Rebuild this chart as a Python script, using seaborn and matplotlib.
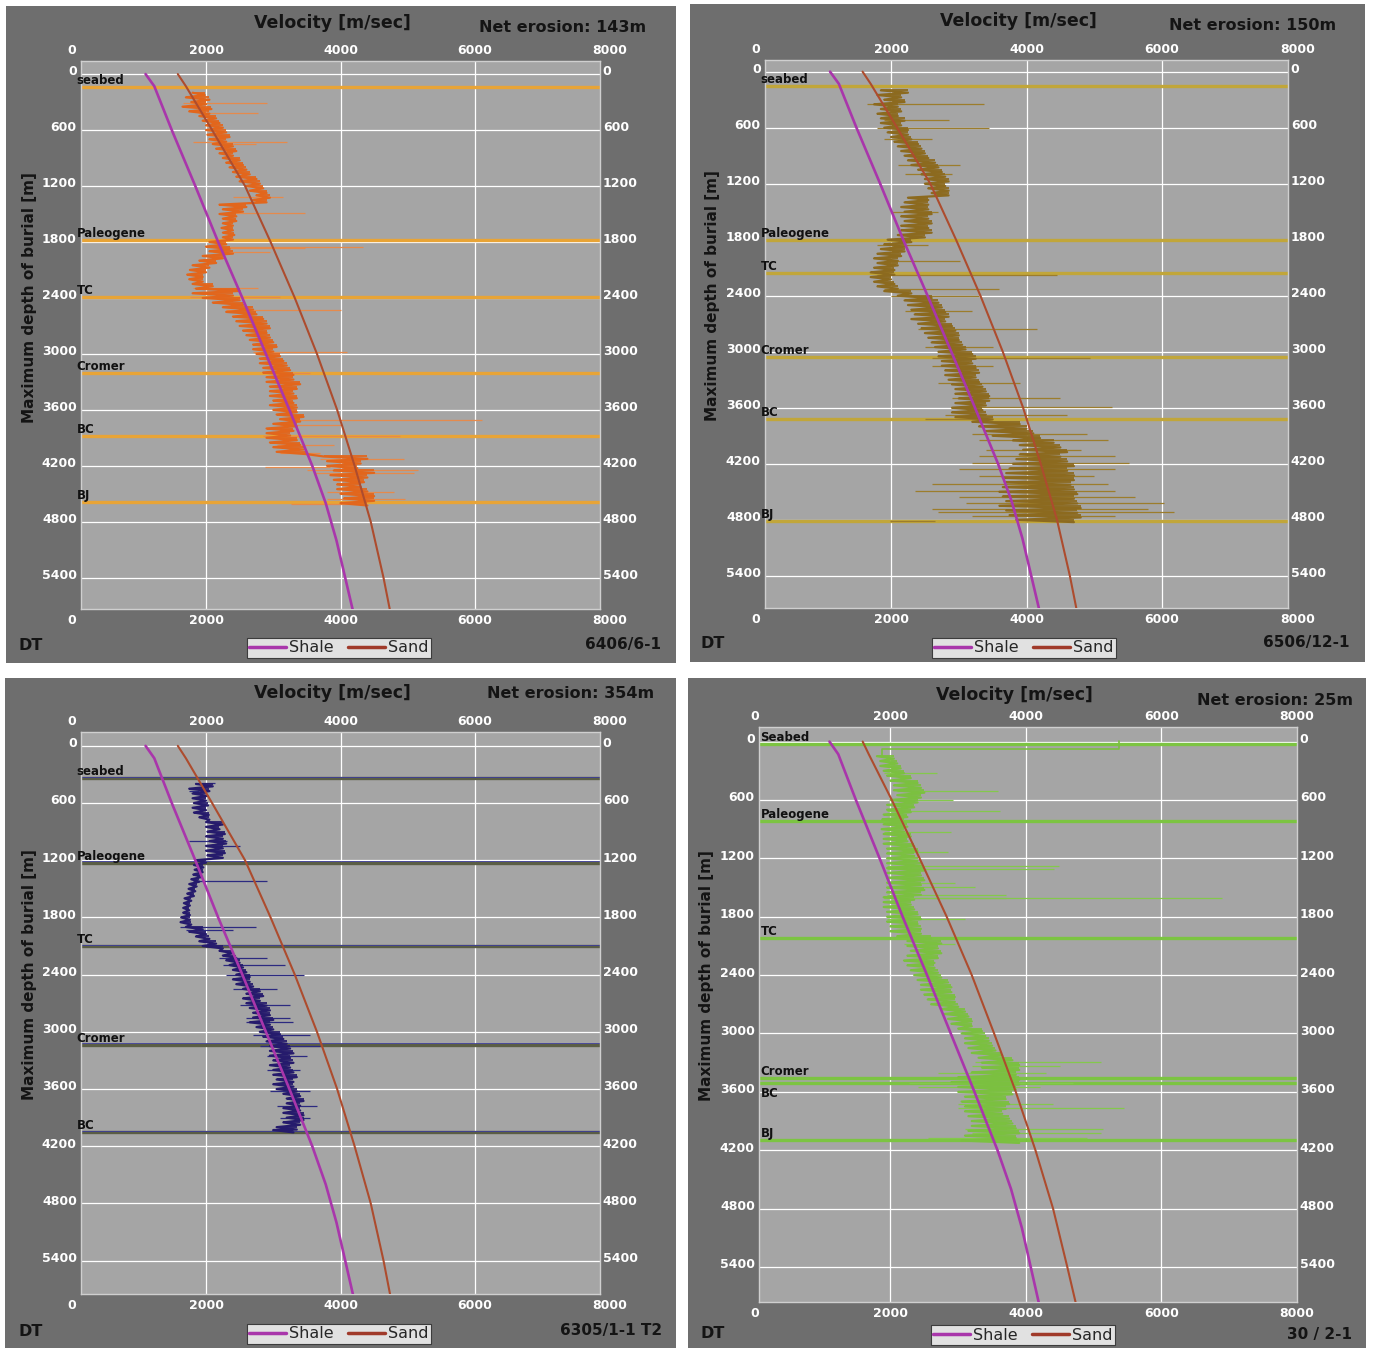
import matplotlib
matplotlib.use("Agg")
import matplotlib.pyplot as plt
import seaborn as sns
from matplotlib.patches import Rectangle
from matplotlib.lines import Line2D

# ---------------------------------------------------------------- data
# Reference compaction trends (depth in m, velocity in m/s)
shale_depth = [0, 130, 600, 1200, 1800, 2400, 3000, 3600, 4200, 4600, 5000, 5400, 5800]
shale_vel = [1100, 1230, 1490, 1840, 2180, 2540, 2890, 3240, 3580, 3780, 3940, 4070, 4200]

sand_depth = [0, 130, 600, 1200, 1800, 2400, 3000, 3600, 4200, 4800, 5400, 5800]
sand_vel = [1580, 1700, 2090, 2580, 2960, 3320, 3650, 3950, 4210, 4450, 4640, 4750]
sand_vel_30_2 = [1590, 1680, 2020, 2430, 2830, 3200, 3530, 3850, 4140, 4400, 4610, 4745]

vel_ticks = [0, 2000, 4000, 6000, 8000]
depth_ticks = [0, 600, 1200, 1800, 2400, 3000, 3600, 4200, 4800, 5400]

# Well 6406/6-1 : sonic velocity envelope per 50 m and isolated spikes
w1_depth = [200, 250, 300, 350, 400, 450, 500, 550, 600, 650, 700, 750, 800, 850, 900, 950,
            1000, 1050, 1100, 1150, 1200, 1250, 1300, 1350, 1400, 1450, 1500, 1550, 1600, 1650,
            1700, 1750, 1800, 1850, 1900, 1950, 2000, 2050, 2100, 2150, 2200, 2250, 2300, 2350,
            2400, 2450, 2500, 2550, 2600, 2650, 2700, 2750, 2800, 2850, 2900, 2950, 3000, 3050,
            3100, 3150, 3200, 3250, 3300, 3350, 3400, 3450, 3500, 3550, 3600, 3650, 3700, 3750,
            3800, 3850, 3900, 3950, 4000, 4050, 4100, 4150, 4200, 4250, 4300, 4350, 4400, 4450,
            4500, 4550, 4600]
w1_lo = [1800, 1700, 1780, 1650, 1750, 1900, 1950, 2000, 2000, 2020, 2050, 2100, 2150, 2200, 2250, 2300,
         2350, 2400, 2450, 2500, 2600, 2650, 2750, 2700, 2200, 2250, 2200, 2250, 2250, 2230,
         2250, 2250, 2050, 2000, 2050, 1950, 1900, 1800, 1760, 1720, 1750, 1800, 1850, 1800,
         1950, 2100, 2250, 2300, 2400, 2450, 2500, 2550, 2600, 2650, 2700, 2700, 2750, 2800,
         2800, 2850, 2850, 2900, 2900, 2950, 2950, 2950, 3000, 2950, 3000, 3050, 3100, 3000,
         2900, 2900, 2900, 2950, 3000, 3050, 3750, 3800, 3800, 3900, 3850, 3900, 3950, 3950,
         4000, 4050, 4000]
w1_hi = [1980, 2050, 2000, 2080, 2050, 2150, 2200, 2250, 2300, 2350, 2300, 2400, 2450, 2400, 2500, 2550,
         2600, 2650, 2750, 2800, 2850, 2900, 2950, 2900, 2600, 2550, 2450, 2450, 2400, 2400,
         2420, 2400, 2300, 2350, 2400, 2250, 2150, 2050, 2000, 1950, 1950, 2100, 2500, 2400,
         2500, 2550, 2700, 2750, 2850, 2900, 2950, 2900, 2950, 3000, 3050, 3000, 3100, 3150,
         3200, 3250, 3300, 3300, 3400, 3350, 3300, 3350, 3300, 3350, 3350, 3450, 3400, 3350,
         3300, 3250, 3350, 3400, 3450, 3500, 4400, 4300, 4250, 4500, 4400, 4350, 4300, 4400,
         4500, 4500, 4400]
w1_spike_depth = [314, 421, 725, 745, 1314, 1493, 1850, 1862, 1910, 2290, 2395, 2530, 2980,
                  3200, 3710, 3760, 3880, 3980, 4060, 4130, 4210, 4245, 4280, 4480, 4560, 4610]
w1_spike_lo = [1650, 1900, 1800, 2100, 2400, 2300, 2100, 2200, 2100, 1800, 1760, 2300, 2700,
               2900, 3200, 3100, 2850, 3050, 3100, 3700, 2880, 3500, 3600, 3800, 3800, 3270]
w1_spike_hi = [2900, 2770, 3200, 2750, 3150, 3470, 4340, 3470, 2950, 2780, 3100, 4000, 4100,
               3550, 6100, 4000, 4890, 3900, 3700, 4950, 3850, 5160, 5100, 4800, 4960, 4300]

# Well 6506/12-1
w2_depth = [200, 250, 300, 350, 400, 450, 500, 550, 600, 650, 700, 750, 800, 850, 900, 950,
            1000, 1050, 1100, 1150, 1200, 1250, 1300, 1350, 1400, 1450, 1500, 1550, 1600, 1650,
            1700, 1750, 1800, 1850, 1900, 1950, 2000, 2050, 2100, 2150, 2200, 2250, 2300, 2350,
            2400, 2450, 2500, 2550, 2600, 2650, 2700, 2750, 2800, 2850, 2900, 2950, 3000, 3050,
            3100, 3150, 3200, 3250, 3300, 3350, 3400, 3450, 3500, 3550, 3600, 3650, 3700, 3750,
            3800, 3850, 3900, 3950, 4000, 4050, 4100, 4150, 4200, 4250, 4300, 4350, 4400, 4450,
            4500, 4550, 4600, 4650, 4700, 4750, 4800]
w2_lo = [1850, 1800, 1900, 1750, 1850, 1800, 1850, 1850, 1900, 1950, 2000, 2050, 2100, 2150, 2200, 2250,
         2300, 2400, 2450, 2500, 2500, 2550, 2600, 2250, 2200, 2150, 2200, 2150, 2200, 2150,
         2150, 2100, 1950, 1900, 1850, 1800, 1750, 1800, 1750, 1700, 1700, 1750, 1800, 1900,
         2100, 2200, 2250, 2300, 2350, 2300, 2400, 2450, 2500, 2550, 2600, 2650, 2700, 2700,
         2750, 2750, 2800, 2800, 2850, 2900, 2950, 2950, 3000, 2950, 2900, 2900, 2950, 3200,
         3300, 3400, 3500, 3800, 3900, 3950, 3900, 3850, 3800, 3750, 3700, 3650, 3700, 3650,
         3600, 3650, 3700, 3600, 3700, 3750, 3850]
w2_hi = [2250, 2150, 2200, 2100, 2150, 2100, 2200, 2150, 2250, 2250, 2300, 2400, 2450, 2500, 2550, 2650,
         2700, 2750, 2800, 2850, 2800, 2850, 2850, 2550, 2550, 2550, 2600, 2550, 2600, 2550,
         2600, 2500, 2300, 2200, 2200, 2150, 2100, 2100, 2050, 2050, 2000, 2050, 2100, 2300,
         2600, 2700, 2750, 2800, 2850, 2800, 2900, 2950, 3000, 3000, 3050, 3100, 3200, 3250,
         3200, 3250, 3300, 3250, 3300, 3350, 3400, 3450, 3450, 3400, 3350, 3400, 3500, 3900,
         4000, 4100, 4200, 4400, 4500, 4600, 4500, 4600, 4700, 4600, 4700, 4700, 4650, 4700,
         4750, 4700, 4750, 4800, 4750, 4800, 4700]
w2_spike_depth = [350, 520, 607, 720, 1000, 1100, 1500, 1860, 2030, 2180, 2330, 2400, 2560, 2760,
                  2950, 3070, 3150, 3340, 3500, 3590, 3680, 3720, 3880, 3950, 4050, 4120, 4190,
                  4260, 4330, 4420, 4490, 4560, 4620, 4680, 4720, 4760, 4815]
w2_spike_lo = [1650, 1900, 1800, 1900, 2100, 2200, 2000, 1800, 1900, 1800, 1900, 2000, 2200, 2400,
               2500, 2600, 2600, 2700, 2900, 2900, 2800, 2500, 3200, 3300, 3400, 3300, 3200,
               3000, 3300, 2600, 2350, 3000, 3100, 2600, 2700, 3200, 1980]
w2_spike_hi = [3370, 2850, 3440, 2600, 3020, 2900, 2700, 2550, 3020, 4450, 3600, 3300, 3200, 4150,
               3500, 4940, 3500, 3900, 4500, 5260, 4600, 3400, 4900, 5200, 4800, 5300, 5510,
               5300, 5000, 5200, 5300, 5600, 6025, 5800, 6174, 5300, 2650]

# Well 6305/1-1 T2
w3_depth = [400, 450, 500, 550, 600, 650, 700, 750, 800, 850, 900, 950, 1000, 1050, 1100, 1150,
            1200, 1250, 1300, 1350, 1400, 1450, 1500, 1550, 1600, 1650, 1700, 1750, 1800, 1850,
            1900, 1950, 2000, 2050, 2100, 2150, 2200, 2250, 2300, 2350, 2400, 2450, 2500, 2550,
            2600, 2650, 2700, 2750, 2800, 2850, 2900, 2950, 3000, 3050, 3100, 3150, 3200, 3250,
            3300, 3350, 3400, 3450, 3500, 3550, 3600, 3650, 3700, 3750, 3800, 3850, 3900, 3950,
            4000, 4030]
w3_lo = [1850, 1750, 1800, 1800, 1820, 1800, 1820, 1900, 2000, 2000, 2020, 2000, 2050, 2000, 2000, 2020,
         1850, 1820, 1830, 1810, 1780, 1750, 1740, 1720, 1680, 1670, 1660, 1660, 1630, 1620,
         1700, 1750, 1850, 1900, 1950, 2200, 2250, 2300, 2350, 2400, 2450, 2400, 2450, 2550,
         2600, 2550, 2600, 2650, 2700, 2700, 2650, 2750, 2800, 2850, 2900, 2950, 2950, 2950,
         3000, 2950, 3000, 3000, 3050, 3000, 3050, 3150, 3200, 3200, 3150, 3150, 3200, 3150,
         3050, 3000]
w3_hi = [2100, 2050, 2020, 2000, 2030, 2000, 2040, 2050, 2250, 2200, 2280, 2250, 2300, 2250, 2280, 2250,
         2000, 1960, 1950, 1940, 1900, 1860, 1840, 1820, 1780, 1760, 1750, 1760, 1760, 1780,
         1950, 2000, 2050, 2150, 2250, 2400, 2450, 2500, 2550, 2600, 2650, 2650, 2700, 2800,
         2850, 2800, 2900, 2950, 2950, 3000, 2950, 3000, 3100, 3150, 3200, 3250, 3300, 3250,
         3300, 3250, 3300, 3350, 3300, 3300, 3350, 3400, 3450, 3400, 3400, 3450, 3450, 3400,
         3350, 3300]
w3_spike_depth = [395, 470, 1000, 1050, 1420, 1900, 1930, 2230, 2300, 2400, 2550, 2720, 2850,
                  2900, 3030, 3150, 3250, 3400, 3620, 3780, 3900, 4030]
w3_spike_lo = [1840, 1740, 1740, 2000, 1800, 1620, 1700, 2200, 2250, 2300, 2400, 2500, 2600,
               2600, 2700, 2800, 2900, 2900, 2950, 3050, 3100, 2980]
w3_spike_hi = [2130, 1900, 2310, 2500, 2900, 2750, 2400, 2900, 3180, 3450, 3050, 3250, 3250,
               3300, 3550, 3700, 3500, 3400, 3550, 3650, 3550, 3300]

# Well 30/2-1
w4_head_depth = [-5, 80, 80, 150]
w4_head_vel = [5380, 5380, 1870, 1870]
w4_depth = [150, 200, 250, 300, 350, 400, 450, 500, 550, 600, 650, 700, 750, 800, 850, 900,
            950, 1000, 1050, 1100, 1150, 1200, 1250, 1300, 1350, 1400, 1450, 1500, 1550, 1600,
            1650, 1700, 1750, 1800, 1850, 1900, 1950, 2000, 2050, 2100, 2150, 2200, 2250, 2300,
            2350, 2400, 2450, 2500, 2550, 2600, 2650, 2700, 2750, 2800, 2850, 2900, 2950, 3000,
            3050, 3100, 3150, 3200, 3250, 3300, 3350, 3400, 3450, 3500, 3550, 3600, 3650, 3700,
            3750, 3800, 3850, 3900, 3950, 4000, 4050, 4100]
w4_lo = [1800, 1850, 1850, 1900, 1950, 2000, 2050, 2050, 2100, 2000, 1950, 1950, 1900, 1880, 1900, 1870,
         1900, 1900, 1900, 1950, 1950, 1950, 1950, 1950, 1950, 1950, 1950, 1950, 1950, 1900,
         1900, 1900, 1950, 1950, 1950, 2000, 2000, 2100, 2250, 2250, 2300, 2250, 2200, 2250,
         2300, 2350, 2400, 2450, 2450, 2500, 2550, 2600, 2750, 2800, 2850, 2900, 3000, 3050,
         3100, 3100, 3150, 3200, 3300, 3350, 3350, 3200, 3000, 2900, 3000, 3000, 3100, 3050,
         3100, 3100, 3150, 3200, 3200, 3150, 3100, 3050]
w4_hi = [2050, 2100, 2150, 2200, 2300, 2400, 2450, 2500, 2450, 2400, 2350, 2300, 2250, 2200, 2250, 2200,
         2300, 2250, 2350, 2400, 2350, 2400, 2450, 2500, 2450, 2500, 2450, 2500, 2450, 2350,
         2300, 2350, 2400, 2450, 2400, 2450, 2450, 2600, 2750, 2700, 2750, 2700, 2650, 2650,
         2700, 2750, 2850, 2900, 2900, 2950, 2950, 3000, 3100, 3150, 3200, 3200, 3350, 3400,
         3450, 3500, 3550, 3650, 3800, 3900, 3900, 3850, 3900, 3900, 3850, 3800, 3700, 3750,
         3700, 3650, 3750, 3800, 3850, 3900, 3850, 3900]
w4_spike_depth = [320, 510, 600, 715, 930, 1130, 1280, 1312, 1455, 1490, 1577, 1605, 1612, 1820,
                  2080, 3290, 3330, 3410, 3505, 3555, 3720, 3770, 3980, 4020, 4070]
w4_spike_lo = [1900, 2100, 2000, 1950, 1900, 1950, 1950, 1950, 1950, 1950, 1950, 1900, 1900, 1950,
               2200, 3250, 3200, 2700, 2280, 2400, 3000, 3000, 3100, 3200, 2560]
w4_spike_hi = [2690, 3590, 2920, 3620, 2900, 2850, 4490, 4420, 2950, 3250, 3700, 6890, 3700, 3100,
               2950, 5100, 4500, 4300, 4700, 4200, 4400, 5450, 5130, 5100, 4900]

# Formation tops
tops_6406_name = ["seabed", "Paleogene", "TC", "Cromer", "BC", "BJ"]
tops_6406_depth = [136, 1778, 2386, 3200, 3879, 4593]
tops_6506_name = ["seabed", "Paleogene", "TC", "Cromer", "BC", "BJ"]
tops_6506_depth = [153, 1803, 2160, 3053, 3721, 4810]
tops_6305_name = ["seabed", "Paleogene", "TC", "Cromer", "BC"]
tops_6305_depth = [339, 1224, 2098, 3136, 4052]
tops_30_name = ["Seabed", "Paleogene", "TC", "Cromer", "BC", "BJ"]
tops_30_depth = [21, 819, 2017, 3460, 3510, 4100]

# ---------------------------------------------------------------- style
sns.set_style("white")
plt.rcParams["font.family"] = ["DejaVu Sans"]

W, H = 1373, 1348
FRAME = "#6e6e6e"
PLOT = "#a5a5a5"
SHALE_C = "#a936ab"
SAND_C = "#ad4c2e"

fig = plt.figure(figsize=(W / 100, H / 100), dpi=100)
fig.patch.set_facecolor("white")


def fx(x):
    return x / W


def fy(y):
    return 1 - y / H


panels = [
    dict(well="6406/6-1", erosion="Net erosion: 143m",
         frame=(6, 6, 676, 663), plot=(81, 61, 600, 609),
         xlim=(140, 7860), ylim=(5735, -140),
         log=(w1_depth, w1_lo, w1_hi), spikes=(w1_spike_depth, w1_spike_lo, w1_spike_hi),
         head=None, tops=(tops_6406_name, tops_6406_depth), sand=sand_vel,
         log_c="#e2661c", spike_c="#e58a4c", top_c="#e8a436", top_edge=None,
         title=(332, 23), ero=(646, 28), ylab=(30, 298), dt=(18, 645), wname=(661, 645),
         leg=(339, 648), lab_dx=-3, below=set()),
    dict(well="6506/12-1", erosion="Net erosion: 150m",
         frame=(690, 4, 1365, 662), plot=(765, 60, 1288, 608),
         xlim=(140, 7860), ylim=(5745, -125),
         log=(w2_depth, w2_lo, w2_hi), spikes=(w2_spike_depth, w2_spike_lo, w2_spike_hi),
         head=None, tops=(tops_6506_name, tops_6506_depth), sand=sand_vel,
         log_c="#8c6a1f", spike_c="#9c7d2c", top_c="#c1a63a", top_edge=None,
         title=(1018, 21), ero=(1336, 26), ylab=(713, 296), dt=(701, 643), wname=(1350, 643),
         leg=(1024, 648), lab_dx=-3, below=set()),
    dict(well="6305/1-1 T2", erosion="Net erosion: 354m",
         frame=(5, 678, 676, 1348), plot=(81, 732, 600, 1294),
         xlim=(140, 7860), ylim=(5750, -145),
         log=(w3_depth, w3_lo, w3_hi), spikes=(w3_spike_depth, w3_spike_lo, w3_spike_hi),
         head=None, tops=(tops_6305_name, tops_6305_depth), sand=sand_vel,
         log_c="#261b6c", spike_c="#2c2a80", top_c="#5a5d45", top_edge="#3c3c9a",
         title=(332, 693), ero=(654, 694), ylab=(30, 975), dt=(18, 1331), wname=(662, 1331),
         leg=(339, 1334), lab_dx=-3, below=set()),
    dict(well="30 / 2-1", erosion="Net erosion: 25m",
         frame=(688, 678, 1366, 1348), plot=(759, 727, 1297, 1302),
         xlim=(60, 8000), ylim=(5760, -150),
         log=(w4_depth, w4_lo, w4_hi), spikes=(w4_spike_depth, w4_spike_lo, w4_spike_hi),
         head=(w4_head_depth, w4_head_vel), tops=(tops_30_name, tops_30_depth), sand=sand_vel_30_2,
         log_c="#7bc040", spike_c="#84c84c", top_c="#7cc442", top_edge=None,
         title=(1014, 695), ero=(1353, 700), ylab=(707, 976), dt=(701, 1333), wname=(1352, 1335),
         leg=(1023, 1335), lab_dx=1, below={"BC"}),
]

for p in panels:
    x0, y0, x1, y1 = p["frame"]
    fig.patches.append(Rectangle((fx(x0), fy(y1)), (x1 - x0) / W, (y1 - y0) / H,
                                 transform=fig.transFigure, facecolor=FRAME,
                                 edgecolor="none", zorder=-1))
    a0, b0, a1, b1 = p["plot"]
    ax = fig.add_axes([fx(a0), fy(b1), (a1 - a0) / W, (b1 - b0) / H])
    ax.set_facecolor(PLOT)

    # formation tops
    names, depths = p["tops"]
    for nm, d in zip(names, depths):
        ax.axhline(d, color=p["top_c"], lw=2.4, zorder=2)
        if p["top_edge"]:
            ax.axhline(d - 14, color=p["top_edge"], lw=0.6, zorder=2)

    # sonic log: isolated spikes, then the dense trace swinging between
    # the low and high reading of every 50 m sample
    sd, slo, shi = p["spikes"]
    ax.hlines(sd, slo, shi, colors=p["spike_c"], lw=0.9, zorder=3)
    ld, llo, lhi = p["log"]
    trace_v, trace_d = [], []
    for d, lo, hi in zip(ld, llo, lhi):
        trace_v += [lo, hi]
        trace_d += [d, d + 25]
    ax.plot(trace_v, trace_d, color=p["log_c"], lw=1.6, zorder=4)
    ax.hlines(ld, llo, lhi, colors=p["log_c"], lw=1.3, zorder=4)
    if p["head"] is not None:
        hd, hv = p["head"]
        ax.plot(hv, hd, color=p["log_c"], lw=1.2, zorder=4)

    # compaction trends
    sns.lineplot(x=shale_vel, y=shale_depth, orient="y", estimator=None, sort=True,
                 color=SHALE_C, linewidth=1.9, ax=ax, zorder=6, legend=False)
    sns.lineplot(x=p["sand"], y=sand_depth, orient="y", estimator=None, sort=True,
                 color=SAND_C, linewidth=1.5, ax=ax, zorder=6, legend=False)

    ax.set_xlim(*p["xlim"])
    ax.set_ylim(*p["ylim"])
    ax.set_xlabel("")
    ax.set_ylabel("")
    ax.set_xticks([2000, 4000, 6000])
    ax.set_yticks(depth_ticks)
    ax.grid(True, color="white", lw=0.9)
    ax.set_axisbelow(True)
    ax.tick_params(length=0, labelbottom=False, labelleft=False)
    for s in ax.spines.values():
        s.set_color("#cfcfcf")
        s.set_linewidth(1.0)

    # tick labels on all four sides
    tk = dict(color="white", fontsize=9, fontweight="bold", annotation_clip=False,
              textcoords="offset points")
    for v in vel_ticks:
        ax.annotate(f"{v}", xy=(v, 1), xycoords=("data", "axes fraction"), xytext=(0, 7.5),
                    ha="center", va="center", **tk)
        ax.annotate(f"{v}", xy=(v, 0), xycoords=("data", "axes fraction"), xytext=(0, -8),
                    ha="center", va="center", **tk)
    for d in depth_ticks:
        ax.annotate(f"{d}", xy=(0, d), xycoords=("axes fraction", "data"), xytext=(-3, 1.5),
                    ha="right", va="center", **tk)
        ax.annotate(f"{d}", xy=(1, d), xycoords=("axes fraction", "data"), xytext=(2, 1.5),
                    ha="left", va="center", **tk)

    # formation names
    for nm, d in zip(names, depths):
        below = nm in p["below"]
        ax.annotate(nm, xy=(0, d), xycoords=("axes fraction", "data"),
                    xytext=(p["lab_dx"], -3 if below else 0), textcoords="offset points",
                    ha="left", va="top" if below else "bottom", fontsize=8.5,
                    fontweight="bold", color="#111111", annotation_clip=False, zorder=7)

    # panel captions
    fig.text(fx(p["title"][0]), fy(p["title"][1]), "Velocity [m/sec]", ha="center", va="center",
             fontsize=12.5, fontweight="bold", color="#141414")
    fig.text(fx(p["ero"][0]), fy(p["ero"][1]), p["erosion"], ha="right", va="center",
             fontsize=11.5, fontweight="bold", color="#141414")
    fig.text(fx(p["ylab"][0]), fy(p["ylab"][1]), "Maximum depth of burial [m]", ha="center",
             va="center", rotation=90, fontsize=11, fontweight="bold", color="#141414")
    fig.text(fx(p["dt"][0]), fy(p["dt"][1]), "DT", ha="left", va="center",
             fontsize=11.5, fontweight="bold", color="#141414")
    fig.text(fx(p["wname"][0]), fy(p["wname"][1]), p["well"], ha="right", va="center",
             fontsize=11, fontweight="bold", color="#141414")

    handles = [Line2D([], [], color=SHALE_C, lw=2.5), Line2D([], [], color="#a03a2a", lw=2.5)]
    leg = fig.legend(handles, ["Shale", "Sand"], loc="center",
                     bbox_to_anchor=(fx(p["leg"][0]), fy(p["leg"][1])),
                     bbox_transform=fig.transFigure, ncol=2, fontsize=11.5, frameon=True,
                     fancybox=False, handlelength=2.3, handletextpad=0.2, columnspacing=0.9,
                     borderpad=0.15, borderaxespad=0)
    leg.get_frame().set_facecolor("white")
    leg.get_frame().set_edgecolor("#222222")
    leg.get_frame().set_linewidth(0.8)

fig.savefig("out.png", dpi=100)
